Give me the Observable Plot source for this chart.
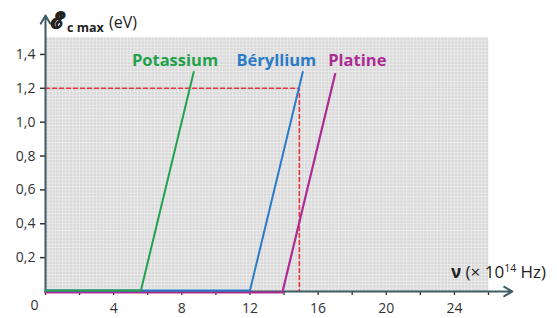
<!DOCTYPE html>
<html><head><meta charset="utf-8">
<script src="https://cdn.jsdelivr.net/npm/d3@7"></script>
<script src="https://cdn.jsdelivr.net/npm/@observablehq/plot@0.6"></script>
<style>
body{margin:0;background:#fff;}
#chart{position:relative;width:557px;height:318px;}
</style></head>
<body><div id="chart"></div>
<script>
// Data
const metals = ["Potassium", "Béryllium", "Platine"];
const colors = ["#23a24d", "#2a7cc7", "#ad2b93"];
const thresholdNu = [5.6, 12.0, 13.9];   // ×10^14 Hz
const endNu = [8.7, 15.1, 17.0];
const endE = [1.29, 1.29, 1.29];        // eV
const labelNu = [7.6, 13.55, 18.3];
const labelE = [1.36, 1.36, 1.36];
const refE = 1.2;
const refNu = 14.9;
const xTickLabels = [4, 8, 12, 16, 20, 24];
const xTickMarks = [0, 2, 4, 6, 8, 10, 12, 14, 16, 18, 20, 22, 24, 26];
const yTicks = [0.2, 0.4, 0.6, 0.8, 1.0, 1.2, 1.4];
const xDomain = [0, 26];
const yDomain = [0, 1.5];
const xArrowEnd = 27.4;
const yArrowEnd = 1.63;

const lines = [];
metals.forEach((m, i) => {
  lines.push({metal: m, nu: 0, e: 0, i});
  lines.push({metal: m, nu: thresholdNu[i], e: 0, i});
  lines.push({metal: m, nu: endNu[i], e: endE[i], i});
});
const refLine = [{nu: 0, e: refE}, {nu: refNu, e: refE}, {nu: refNu, e: 0}];
const labels = metals.map((m, i) => ({metal: m, nu: labelNu[i], e: labelE[i], c: colors[i]}));

const axisColor = "#3e5b66";
const fmt = d => d.toFixed(1).replace(".", ",");

const chart = Plot.plot({
  width: 557, height: 318,
  marginLeft: 45, marginRight: 69, marginTop: 37, marginBottom: 27,
  x: {domain: xDomain},
  y: {domain: yDomain},
  style: {fontFamily: "'Open Sans', sans-serif", background: "white", overflow: "visible"},
  marks: [
    Plot.rect([{}], {x1: xDomain[0], x2: xDomain[1], y1: yDomain[0], y2: yDomain[1], fill: "#d9d9d9"}),
    Plot.ruleX(d3.range(0, 26.001, 0.2), {x: d => d, y1: yDomain[0], y2: yDomain[1], stroke: "#f4f4f4", strokeWidth: 1, strokeOpacity: 0.6}),
    Plot.ruleY(d3.range(0, 1.5001, 0.02), {y: d => d, x1: xDomain[0], x2: xDomain[1], stroke: "#f4f4f4", strokeWidth: 1, strokeOpacity: 0.6}),
    // reference dashed
    Plot.line(refLine, {x: "nu", y: "e", stroke: "#e8333a", strokeWidth: 1.6, strokeDasharray: "4,3"}),
    // axes ticks and labels
    Plot.axisX(xTickMarks, {tickSize: 4, tickFormat: () => "", stroke: "#333", strokeWidth: 1.3, label: null}),
    Plot.axisX(xTickLabels, {tickSize: 0, tickPadding: 12, fontSize: 14, fill: "#333", label: null}),
    Plot.axisY(yTicks, {tickSize: 5, tickPadding: 5, tickFormat: fmt, fontSize: 14, fill: "#333", stroke: "#333", strokeWidth: 1.5, label: null}),
    Plot.text([0], {x: 0, y: 0, text: d => String(d), dx: -11, dy: 14, fontSize: 14, fill: "#333"}),
    Plot.arrow([{x1: 0, y1: 0, x2: xArrowEnd, y2: 0}], {x1: "x1", y1: "y1", x2: "x2", y2: "y2", stroke: axisColor, strokeWidth: 2, headLength: 7, clip: false}),
    Plot.arrow([{x1: 0, y1: 0, x2: 0, y2: yArrowEnd}], {x1: "x1", y1: "y1", x2: "x2", y2: "y2", stroke: axisColor, strokeWidth: 2, headLength: 7, clip: false}),
    // series
    Plot.line(lines.filter(d => d.i === 2), {x: "nu", y: "e", stroke: colors[2], strokeWidth: 2.2, dy: 1}),
    Plot.line(lines.filter(d => d.i === 1), {x: "nu", y: "e", stroke: colors[1], strokeWidth: 2, dy: -1}),
    Plot.line(lines.filter(d => d.i === 0), {x: "nu", y: "e", stroke: colors[0], strokeWidth: 2, dy: -1}),
    Plot.text(labels, {x: "nu", y: "e", text: "metal", fill: d => d.c, fontSize: 16.5, fontWeight: "bold"})
  ]
});
document.getElementById("chart").appendChild(chart);

// Rich axis titles
const svg = d3.select(chart);
const g = svg.append("g").attr("text-anchor", "start").attr("fill", "#222").style("font-family", "'Open Sans', sans-serif");
g.append("text").attr("x", 51).attr("y", 28).text("ℰ")
  .attr("font-size", 22).attr("font-weight", "bold").attr("stroke", "#222").attr("stroke-width", 1.2)
  .style("font-family", "'DejaVu Serif', serif");
g.append("text").attr("x", 67).attr("y", 32).text("c max").attr("font-size", 12.5).attr("font-weight", "bold");
g.append("text").attr("x", 109).attr("y", 28).text("(eV)").attr("font-size", 16);

const xl = g.append("text").attr("x", 451).attr("y", 278).attr("font-size", 17);
xl.append("tspan").text("ν").attr("font-weight", "bold");
xl.append("tspan").text(" (× 10");
xl.append("tspan").text("14").attr("font-size", 10.5).attr("dy", -6);
xl.append("tspan").text(" Hz)").attr("dy", 6);
</script></body></html>
